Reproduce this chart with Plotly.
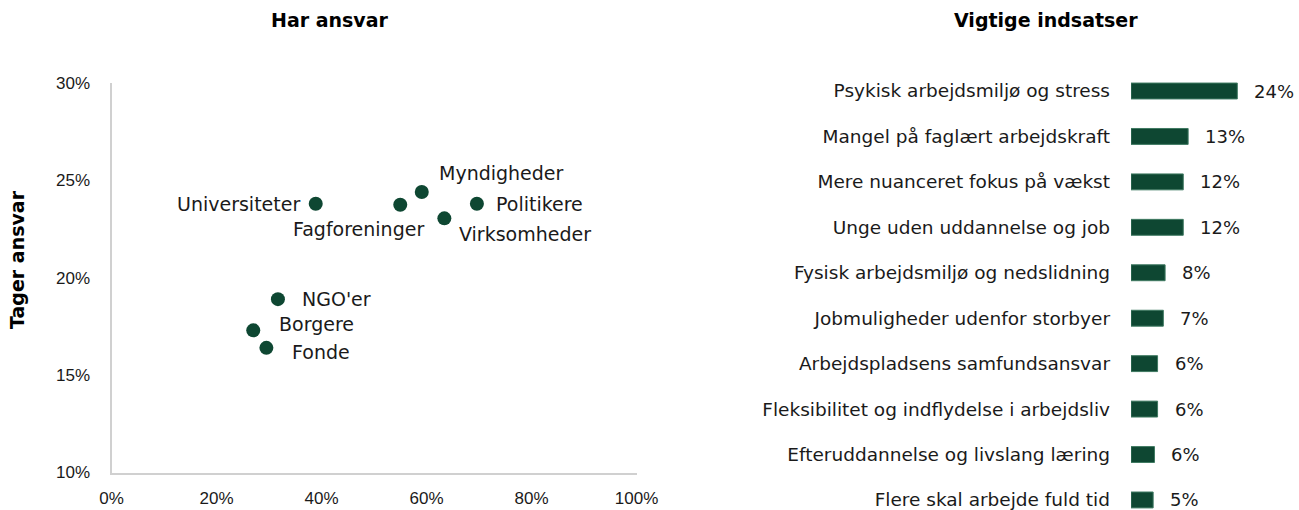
import plotly.graph_objects as go

# ---------------- Data ----------------
actors = ["Universiteter", "Fagforeninger", "Myndigheder", "Politikere",
          "Virksomheder", "NGO'er", "Borgere", "Fonde"]
har_ansvar = [38.9, 55.0, 59.1, 69.6, 63.4, 31.7, 27.0, 29.5]      # x, %
tager_ansvar = [23.8, 23.75, 24.4, 23.8, 23.05, 18.9, 17.3, 16.4]  # y, %

indsatser = ["Psykisk arbejdsmiljø og stress",
             "Mangel på faglært arbejdskraft",
             "Mere nuanceret fokus på vækst",
             "Unge uden uddannelse og job",
             "Fysisk arbejdsmiljø og nedslidning",
             "Jobmuligheder udenfor storbyer",
             "Arbejdspladsens samfundsansvar",
             "Fleksibilitet og indflydelse i arbejdsliv",
             "Efteruddannelse og livslang læring",
             "Flere skal arbejde fuld tid"]
indsats_values = [24.0, 12.9, 11.8, 11.8, 7.7, 7.3, 6.0, 6.0, 5.3, 5.0]
indsats_labels = ["24%", "13%", "12%", "12%", "8%", "7%", "6%", "6%", "6%", "5%"]

x_ticks = [0, 20, 40, 60, 80, 100]
x_ticktext = ["0%", "20%", "40%", "60%", "80%", "100%"]
y_ticks = [10, 15, 20, 25, 30]
y_ticktext = ["10%", "15%", "20%", "25%", "30%"]

# ---------------- Styles ----------------
GREEN = "#0e4732"
TXT = "#1a1a1a"
AXIS = "#d0d0d0"
LABEL_FONT = "DejaVu Sans"
TICK_FONT = "Liberation Sans"
TITLE_FONT = "DejaVu Sans"

# label placement: (xanchor, xshift, yshift) per actor
label_pos = {
    "Universiteter": ("right", -14, 0),
    "Fagforeninger": ("right", 26, -24),
    "Myndigheder": ("left", 15, 19),
    "Politikere": ("left", 17, 0),
    "Virksomheder": ("left", 13, -16),
    "NGO'er": ("left", 22, 0),
    "Borgere": ("left", 24, 6),
    "Fonde": ("left", 24, -4),
}

W, H = 1299, 510

fig = go.Figure()

fig.add_trace(go.Scatter(
    x=har_ansvar, y=tager_ansvar, mode="markers",
    marker=dict(color=GREEN, size=14),
    xaxis="x", yaxis="y", hoverinfo="text", text=actors, showlegend=False,
))

fig.add_trace(go.Bar(
    x=indsats_values, y=indsatser, orientation="h",
    marker=dict(color=GREEN, line=dict(color="#3f7a62", width=1)),
    width=0.35, xaxis="x2", yaxis="y2", showlegend=False, hoverinfo="x+y",
))

annotations = []
for name, xv, yv in zip(actors, har_ansvar, tager_ansvar):
    xa, xs, ys = label_pos[name]
    annotations.append(dict(
        x=xv, y=yv, xref="x", yref="y", text=name, showarrow=False,
        xanchor=xa, yanchor="middle", xshift=xs, yshift=ys,
        font=dict(family=LABEL_FONT, size=19, color=TXT),
    ))

for cat, v, lab in zip(indsatser, indsats_values, indsats_labels):
    annotations.append(dict(
        x=v, y=cat, xref="x2", yref="y2", text=lab, showarrow=False,
        xanchor="left", yanchor="middle", xshift=15,
        font=dict(family=LABEL_FONT, size=18, color=TXT),
    ))

# titles
annotations += [
    dict(x=330 / W, y=1 - 20 / H, xref="paper", yref="paper", text="<b>Har ansvar</b>",
         showarrow=False, xanchor="center", yanchor="middle",
         font=dict(family=TITLE_FONT, size=19, color="#000")),
    dict(x=1046 / W, y=1 - 20 / H, xref="paper", yref="paper", text="<b>Vigtige indsatser</b>",
         showarrow=False, xanchor="center", yanchor="middle",
         font=dict(family=TITLE_FONT, size=19, color="#000")),
    dict(x=17 / W, y=1 - 260 / H, xref="paper", yref="paper", text="<b>Tager ansvar</b>",
         showarrow=False, xanchor="center", yanchor="middle", textangle=-90,
         font=dict(family=TITLE_FONT, size=19, color="#000")),
]

bar_px_per_unit = 106.3 / 24.0
x2_start_px = 1131

fig.update_layout(
    width=W, height=H,
    margin=dict(l=0, r=0, t=0, b=0, pad=0),
    paper_bgcolor="white", plot_bgcolor="white",
    xaxis=dict(domain=[111.5 / W, 636.5 / W], range=[0, 100], tickvals=x_ticks,
               ticktext=x_ticktext, automargin=False,
               showgrid=False, zeroline=False, showline=True,
               linecolor=AXIS, linewidth=2, ticks="", ticklabelstandoff=9,
               tickfont=dict(family=TICK_FONT, size=17, color=TXT), anchor="y"),
    yaxis=dict(domain=[1 - 472.5 / H, 1 - 83 / H], range=[10, 30], tickvals=y_ticks,
               ticktext=y_ticktext, automargin=False,
               showgrid=False, zeroline=False, showline=True,
               linecolor=AXIS, linewidth=2, ticks="", ticklabelstandoff=16,
               tickfont=dict(family=TICK_FONT, size=17, color=TXT), anchor="x"),
    xaxis2=dict(domain=[x2_start_px / W, 1.0],
                range=[0, (W - x2_start_px) / bar_px_per_unit],
                visible=False, anchor="y2", automargin=False),
    yaxis2=dict(domain=[0, 1], range=[(H - 91) / 45.44, -91 / 45.44],
                showgrid=False, zeroline=False, showline=False, ticks="",
                ticklabelstandoff=20, anchor="x2", automargin=False,
                tickfont=dict(family=LABEL_FONT, size=18.5, color=TXT)),
    annotations=annotations,
    bargap=0.65,
)

fig.write_html(
    "out.html",
    config={"displayModeBar": False},
    post_script="document.body.style.margin='0';document.body.style.overflow='hidden';",
)
